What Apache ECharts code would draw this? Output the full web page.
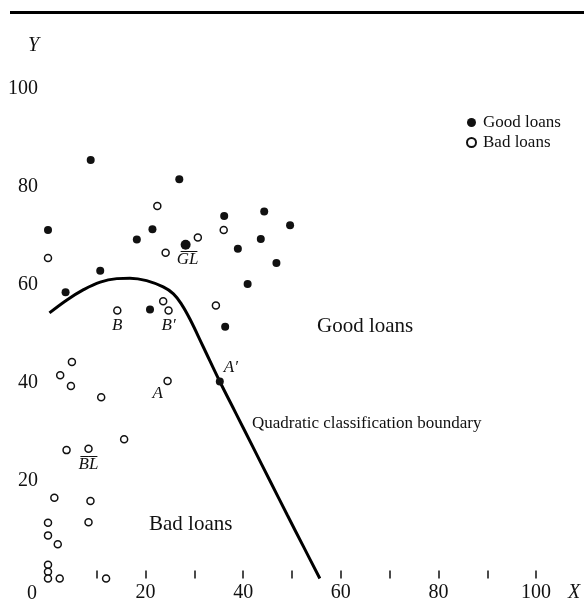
<!DOCTYPE html>
<html>
<head>
<meta charset="utf-8">
<script src="https://cdn.jsdelivr.net/npm/echarts@6/dist/echarts.min.js"></script>
<style>
html,body{margin:0;padding:0;background:#fff;}
#chart{width:584px;height:601px;}
</style>
</head>
<body>
<div id="chart"></div>
<script>
// ---- data ----
const goodX = [0, 3.6, 10.7, 18.2, 21.4, 20.9, 36.1, 36.3, 38.9, 40.9, 43.6, 44.3, 46.8, 49.6, 35.2, 8.75, 26.9, 28.2];
const goodY = [71.1, 58.4, 62.8, 69.2, 71.3, 54.9, 74.0, 51.4, 67.3, 60.1, 69.3, 74.9, 64.4, 72.1, 40.2, 85.4, 81.5, 68.1];
const badX = [0, 22.4, 24.1, 30.7, 36.0, 14.2, 23.6, 24.7, 34.4, 4.9, 2.5, 4.7, 24.5, 10.9, 15.6, 3.8, 8.3, 1.3, 8.7, 8.3, 0, 0, 2.0, 0, 0, 0, 2.4, 11.9];
const badY = [65.4, 76.0, 66.5, 69.6, 71.1, 54.7, 56.6, 54.7, 55.7, 44.2, 41.5, 39.3, 40.3, 37.0, 28.4, 26.2, 26.5, 16.5, 15.8, 11.5, 11.4, 8.8, 7.0, 2.8, 1.4, 0, 0, 0];
const boundaryX = [0.3, 3.8, 7.2, 10.7, 14.1, 16.8, 20.2, 23.6, 25.7, 27.4, 29.1, 31.8, 35.2, 38.5, 42.0, 45.5, 49.0, 52.4, 55.7];
const boundaryY = [54.2, 56.8, 58.9, 60.5, 61.2, 61.3, 60.8, 59.5, 58.1, 55.9, 52.9, 47.3, 40.2, 33.7, 26.8, 19.9, 13.0, 6.4, 0];
const xTickValues = [10, 20, 30, 40, 50, 60, 70, 80, 90, 100];
const xLabelValues = [20, 40, 60, 80, 100];
const yLabelValues = [20, 40, 60, 80, 100];
const goodNames = {14: "A\u2032", 17: "G\u0305L\u0305"};
const badNames = {5: "B", 7: "B\u2032", 12: "A", 16: "B\u0305L\u0305"};
const seriesNames = ["Good loans", "Bad loans"];

// ---- styles ----
const SERIF = '"Liberation Serif", "DejaVu Serif", serif';
const labelOffsets = {"A\u2032": [11, -14], "G\u0305L\u0305": [2, 15], "B": [0, 15], "B\u2032": [0, 15], "A": [-10, 13], "B\u0305L\u0305": [0, 16]};

function build(xs, ys, names, extra) {
  return xs.map((x, i) => {
    const item = {value: [x, ys[i]]};
    if (names[i]) {
      item.label = {show: true, formatter: names[i], position: 'inside', offset: labelOffsets[names[i]],
        fontFamily: SERIF, fontStyle: 'italic', fontSize: 17, color: '#111'};
    }
    if (extra && extra[i]) Object.assign(item, extra[i]);
    return item;
  });
}

const chart = echarts.init(document.getElementById('chart'), null, {renderer: 'canvas'});
chart.setOption({
  backgroundColor: '#fff',
  animation: false,
  grid: {left: 48, right: 4, top: 64, bottom: 22.5, containLabel: false, outerBoundsMode: 'none'},
  legend: {
    data: seriesNames, orient: 'vertical', left: 466, top: 114, itemGap: 3, padding: 0,
    itemWidth: 9, itemHeight: 9, icon: 'circle',
    textStyle: {fontFamily: SERIF, fontSize: 17, color: '#111', padding: [0,0,0,2]}
  },
  xAxis: {
    type: 'value', min: 0, max: 109, interval: 10,
    axisLine: {show: false}, splitLine: {show: false},
    axisTick: {show: true, inside: true, length: 8, customValues: xTickValues, lineStyle: {color: '#111', width: 1.5}},
    axisLabel: {customValues: xLabelValues, fontFamily: SERIF, fontSize: 20, color: '#111', margin: 4}
  },
  yAxis: {
    type: 'value', min: 0, max: 105, interval: 20,
    axisLine: {show: false}, splitLine: {show: false}, axisTick: {show: false},
    axisLabel: {customValues: yLabelValues, fontFamily: SERIF, fontSize: 20, color: '#111', margin: 10}
  },
  series: [
    {
      name: seriesNames[0], type: 'scatter', clip: false, symbol: 'circle', symbolSize: 8,
      itemStyle: {color: '#111', opacity: 1},
      data: build(goodX, goodY, goodNames, {17: {symbolSize: 10}}),
      z: 3
    },
    {
      name: seriesNames[1], type: 'scatter', clip: false, symbol: 'circle', symbolSize: 7,
      itemStyle: {color: '#fff', borderColor: '#111', borderWidth: 1.5, opacity: 1},
      data: build(badX, badY, badNames),
      z: 3
    },
    {
      name: 'boundary', type: 'line', smooth: 0.4, symbol: 'none', clip: false,
      lineStyle: {color: '#000', width: 3},
      data: boundaryX.map((x, i) => [x, boundaryY[i]]),
      z: 2
    }
  ],
  graphic: [
    {type: 'rect', shape: {x: 10, y: 11, width: 574, height: 3}, style: {fill: '#000'}},
    {type: 'text', left: 28, top: 36, style: {text: 'Y', fontFamily: SERIF, fontStyle: 'italic', fontSize: 20, fill: '#111'}},
    {type: 'text', left: 568, top: 583, style: {text: 'X', fontFamily: SERIF, fontStyle: 'italic', fontSize: 20, fill: '#111'}},
    {type: 'text', left: 27, top: 584, style: {text: '0', fontFamily: SERIF, fontSize: 20, fill: '#111'}},
    {type: 'text', left: 317, top: 316, style: {text: 'Good loans', fontFamily: SERIF, fontSize: 21, fill: '#111'}},
    {type: 'text', left: 149, top: 514, style: {text: 'Bad loans', fontFamily: SERIF, fontSize: 21, fill: '#111'}},
    {type: 'text', left: 252, top: 415, style: {text: 'Quadratic classification boundary', fontFamily: SERIF, fontSize: 17, fill: '#111'}}
  ]
});
</script>
</body>
</html>
